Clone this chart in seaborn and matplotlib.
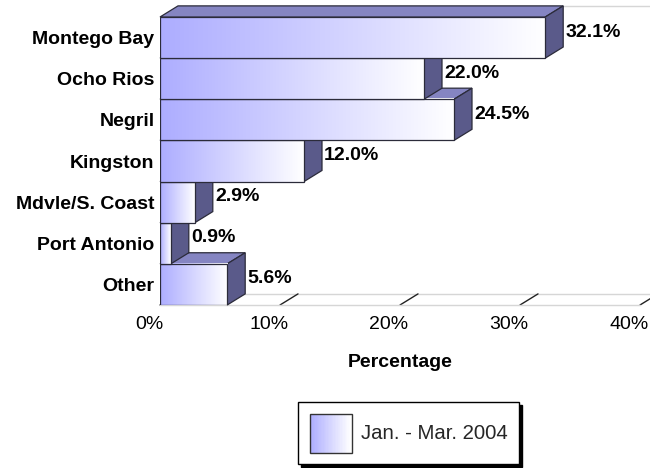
import numpy as np
import pandas as pd
import matplotlib
matplotlib.use("Agg")
import matplotlib.pyplot as plt
import seaborn as sns
from matplotlib.colors import LinearSegmentedColormap
from matplotlib.patches import Polygon, Rectangle
from matplotlib.legend_handler import HandlerBase
from matplotlib.transforms import ScaledTranslation

# data
regions = ["Montego Bay", "Ocho Rios", "Negril", "Kingston",
           "Mdvle/S. Coast", "Port Antonio", "Other"]
share = [32.1, 22.0, 24.5, 12.0, 2.9, 0.9, 5.6]
x_ticks = [0, 10, 20, 30, 40]
x_tick_labels = ["0%", "10%", "20%", "30%", "40%"]
series_name = "Jan. - Mar. 2004"

FRONT_LEFT = "#adadff"
TOP_FACE = "#8585c2"
SIDE_FACE = "#5a5a8a"
EDGE = "#2b2b3a"
FLOOR = "#d6d6d6"
DEPTH_X = 1.5   # depth offset in percent units
DEPTH_Y = 0.27  # depth offset in row units

grad = LinearSegmentedColormap.from_list("bar_grad", [FRONT_LEFT, "#ffffff"])


class GradientSwatch(HandlerBase):
    """Legend key filled with the same left-to-right gradient as the bars."""

    def create_artists(self, legend, orig_handle, xdescent, ydescent,
                       width, height, fontsize, trans):
        steps = 30
        parts = []
        for k in range(steps):
            parts.append(Rectangle((-xdescent + width * k / steps, -ydescent),
                                   width / steps + 0.3, height,
                                   facecolor=grad(k / (steps - 1)),
                                   edgecolor="none", transform=trans))
        parts.append(Rectangle((-xdescent, -ydescent), width, height,
                               facecolor="none", edgecolor="#333333",
                               lw=1, transform=trans))
        return parts


sns.set_theme(style="white")
plt.rcParams["font.family"] = ["Liberation Sans", "DejaVu Sans"]

df = pd.DataFrame({"region": regions, "share": share})
n = len(regions)

fig = plt.figure(figsize=(6.5, 4.68), dpi=100)
ax = fig.add_axes([160 / 650, 1 - 305 / 468, 480 / 650, 288 / 468])

sns.barplot(data=df, x="share", y="region", orient="h", width=1.0,
            color=FRONT_LEFT, ax=ax)

# 3D look: top face, side face and gradient front for every bar
for i, (bar, val) in enumerate(zip(ax.patches, share)):
    x0, y0 = bar.get_x(), bar.get_y()
    w, h = bar.get_width(), bar.get_height()
    y_top, y_bot = min(y0, y0 + h), max(y0, y0 + h)
    x1 = x0 + w
    z = 3 + (n - i) * 0.1

    top = Polygon([(x0, y_top), (x0 + DEPTH_X, y_top - DEPTH_Y),
                   (x1 + DEPTH_X, y_top - DEPTH_Y), (x1, y_top)],
                  closed=True, facecolor=TOP_FACE, edgecolor=EDGE, lw=0.9,
                  zorder=z, clip_on=False)
    side = Polygon([(x1, y_top), (x1 + DEPTH_X, y_top - DEPTH_Y),
                    (x1 + DEPTH_X, y_bot - DEPTH_Y), (x1, y_bot)],
                   closed=True, facecolor=SIDE_FACE, edgecolor=EDGE, lw=0.9,
                   zorder=z, clip_on=False)
    ax.add_patch(top)
    ax.add_patch(side)

    ax.imshow(np.linspace(0, 1, 256)[None, :], cmap=grad,
              extent=(x0, x1, y_bot, y_top), aspect="auto",
              interpolation="bilinear", zorder=z + 0.02)
    bar.set_facecolor("none")
    bar.set_edgecolor(EDGE)
    bar.set_linewidth(0.9)
    bar.set_zorder(z + 0.04)

    ax.annotate(f"{val:.1f}%", xy=(x1 + DEPTH_X, (y_top + y_bot) / 2 - DEPTH_Y / 2),
                xytext=(1.5, 0), textcoords="offset points", ha="left", va="center",
                fontsize=14, fontweight="bold", color="black", zorder=20,
                annotation_clip=False)

ax.set_xlim(0, 40)
ax.set_ylim(n - 0.5, -0.5)

# floor and back wall edges
ax.plot([DEPTH_X, 40 + DEPTH_X], [n - 0.5 - DEPTH_Y] * 2, color=FLOOR, lw=1,
        clip_on=False, zorder=1)
ax.plot([DEPTH_X, 40 + DEPTH_X], [-0.5 - DEPTH_Y] * 2, color=FLOOR, lw=1,
        clip_on=False, zorder=1)
for t in x_ticks:
    ax.plot([t, t + DEPTH_X], [n - 0.5, n - 0.5 - DEPTH_Y], color="#222222",
            lw=1, clip_on=False, zorder=1.5)

sns.despine(ax=ax, left=True, top=True, right=True)
ax.spines["bottom"].set_color(FLOOR)
ax.spines["bottom"].set_linewidth(1)
ax.grid(False)

ax.set_xticks(x_ticks, x_tick_labels)
ax.tick_params(axis="x", length=0, pad=8, labelsize=14, colors="black")
ax.tick_params(axis="y", length=0, pad=4, labelsize=14, colors="black")
for lbl in ax.get_yticklabels():
    lbl.set_fontweight("bold")
for lbl in ax.get_xticklabels():
    lbl.set_transform(lbl.get_transform() + ScaledTranslation(-0.11, 0, fig.dpi_scale_trans))

ax.set_ylabel("")
ax.set_xlabel("Percentage", fontsize=14, fontweight="bold", labelpad=15, color="black")

key = Rectangle((0, 0), 1, 1)
fig.legend(handles=[key], labels=[series_name], handler_map={key: GradientSwatch()},
           loc="upper left", bbox_to_anchor=(298 / 650, 1 - 402 / 468),
           frameon=True, fancybox=False, edgecolor="black", framealpha=1,
           shadow={"color": "black", "alpha": 1}, fontsize=14.7,
           handlelength=2.06, handleheight=2.56, handletextpad=0.44,
           borderpad=0.57, borderaxespad=0)

fig.savefig("out.png", dpi=100)
